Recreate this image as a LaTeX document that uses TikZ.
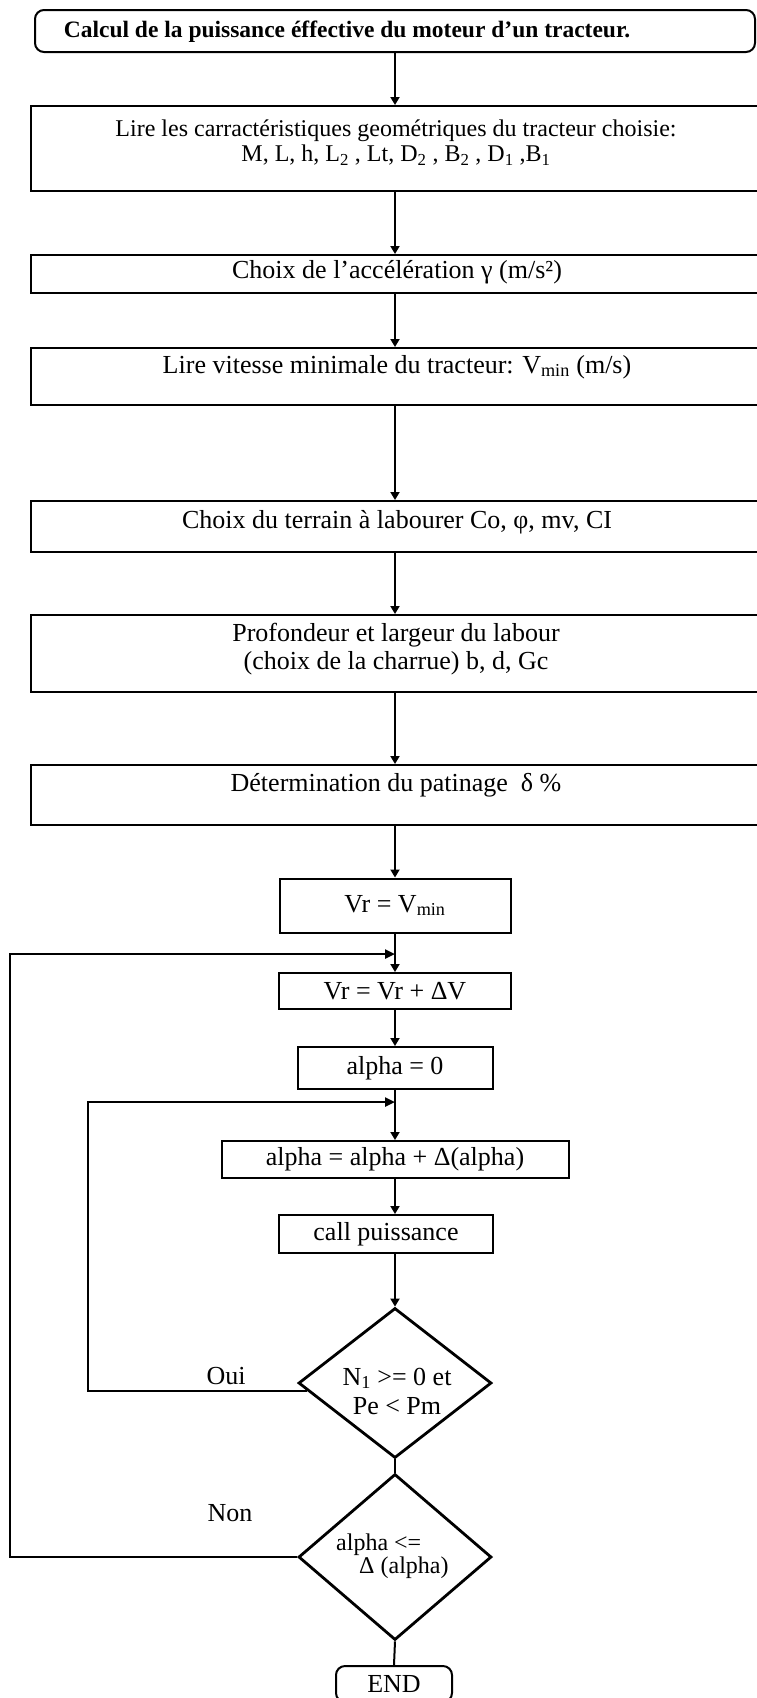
\documentclass[tikz,border=0pt]{standalone}
\usepackage{fontspec}
\setmainfont{Liberation Serif}
\usetikzlibrary{shapes.geometric,arrows.meta}

\tikzset{
  boite/.style={draw, line width=2pt, rectangle, inner sep=0pt},
  arrondi/.style={boite, rounded corners=9pt},
  losange/.style={draw, diamond, line width=2.8pt, inner sep=0pt},
  texte/.style={align=center, inner sep=0pt},
  fleche/.style={line width=1.8pt, -{Triangle[length=8pt,width=9pt]}},
  trait/.style={line width=2pt},
  boucle/.style={line width=2.4pt, -{Triangle[length=10pt,width=9pt]}}
}

\begin{document}
\begin{tikzpicture}[x=1pt,y=-1pt,font=\fontsize{26}{29}\selectfont]
\useasboundingbox (0,0) rectangle (757,1698);

% titre
\node[arrondi, minimum width=720pt, minimum height=42pt] (titre) at (395,31) {};
\node[texte, font=\fontsize{23.5}{27}\selectfont\bfseries] (titret) at (347,32) {Calcul de la puissance éffective du moteur d’un tracteur.};

% donnees
\node[boite, minimum width=728pt, minimum height=85pt] (lire) at (395,148.5) {};
\node[texte, font=\fontsize{24}{25}\selectfont] (liret) at (396,142.5) {Lire les carractéristiques geométriques du tracteur choisie:\\M, L, h, L\textsubscript{2} , Lt, D\textsubscript{2} , B\textsubscript{2} , D\textsubscript{1} ,B\textsubscript{1}};
\node[boite, minimum width=728pt, minimum height=38pt] (accel) at (395,274) {};
\node[texte] (accelt) at (397,272) {Choix de l’accélération γ (m/s²)};
\node[boite, minimum width=728pt, minimum height=57pt] (vmin) at (395,376.5) {};
\node[texte] (vmint) at (397,367) {Lire vitesse minimale du tracteur: V\textsubscript{min} (m/s)};
\node[boite, minimum width=728pt, minimum height=51pt] (terrain) at (395,526.5) {};
\node[texte] (terraint) at (397,522) {Choix du terrain à labourer Co, φ, mv, CI};
\node[boite, minimum width=728pt, minimum height=77pt] (labour) at (395,653.5) {};
\node[texte, font=\fontsize{26}{28}\selectfont] (labourt) at (396,649) {Profondeur et largeur du labour\\(choix de la charrue) b, d, Gc};
\node[boite, minimum width=728pt, minimum height=60pt] (patin) at (395,795) {};
\node[texte] (patint) at (396,785) {Détermination du patinage\enspace δ \%};

% boucles
\node[boite, minimum width=231pt, minimum height=54pt] (vrmin) at (395,905.5) {Vr = V\textsubscript{min}};
\node[boite, minimum width=232pt, minimum height=36pt] (vrdv) at (395,991) {Vr = Vr + ΔV};
\node[boite, minimum width=195pt, minimum height=42pt] (alpha0) at (395,1068) {alpha = 0};
\node[boite, minimum width=347pt, minimum height=37pt] (alphainc) at (395,1159.5) {alpha = alpha + Δ(alpha)};
\node[boite, minimum width=214pt, minimum height=38pt] (call) at (386,1234) {call puissance};

% tests
\node[losange, minimum width=193pt, minimum height=150pt] (test1) at (395,1383) {};
\node[texte] (test1t) at (397,1391) {N\textsubscript{1} >= 0 et\\Pe < Pm};
\node[losange, minimum width=193pt, minimum height=166pt] (test2) at (395,1557) {};
\node[texte, align=left, anchor=west, font=\fontsize{24}{23}\selectfont] (test2t) at (336,1556) {alpha <=\\\hspace*{23pt}Δ (alpha)};
\node[arrondi, minimum width=116pt, minimum height=36pt] (fin) at (394,1684) {END};

\node (oui) at (226,1376) {Oui};
\node (non) at (230,1513) {Non};

% liaisons
\coordinate (j1) at (395,954);
\coordinate (j2) at (395,1102);
\coordinate (g1) at (10,954);
\coordinate (g2) at (88,1102);

\foreach \a/\b in {titre/lire, lire/accel, accel/vmin, vmin/terrain, terrain/labour, labour/patin, patin/vrmin, vrmin/vrdv, vrdv/alpha0, alpha0/alphainc}
  \draw[fleche] (\a.south) -- (\b.north);
\draw[fleche] (alphainc.south) -- (alphainc.south |- call.north);
\draw[fleche] (call.south -| test1.north) -- (test1.north);
\draw[trait] (test1.south) -- (test2.north);
\draw[trait] (test2.south) -- (fin.north);
\draw[boucle] (test1.185) -| (g2) -- (j2);
\draw[boucle] (test2.west) -| (g1) -- (j1);
\end{tikzpicture}
\end{document}
